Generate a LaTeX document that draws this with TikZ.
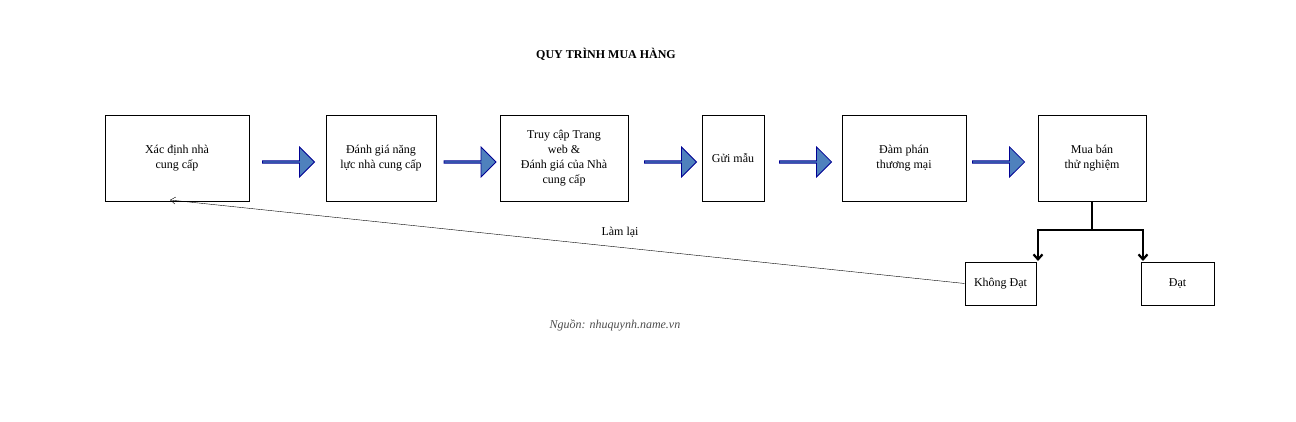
\documentclass[tikz,border=0pt]{standalone}
\usepackage{fontspec}
\setmainfont{Liberation Serif}
\usetikzlibrary{shapes.arrows,arrows.meta}
\begin{document}
\begin{tikzpicture}[x=1pt,y=-1pt,
  box/.style={draw,thick,align=center,font=\fontsize{12}{15}\selectfont,inner sep=0pt},
  barrow/.style={single arrow,draw=blue!30!black!60!blue,fill={rgb,255:red,79;green,129;blue,189},
    minimum height=52pt,minimum width=30pt,single arrow head extend=5pt,inner sep=0pt,line width=0.8pt}]
\useasboundingbox (0,0) rectangle (1296,422);
\node[box,minimum width=144pt,minimum height=86pt] (b1) at (177,158) {Xác định nhà\\cung cấp};
\node[box,minimum width=110pt,minimum height=86pt] (b2) at (381,158) {Đánh giá năng\\lực nhà cung cấp};
\node[box,minimum width=128pt,minimum height=86pt] (b3) at (564,158) {Truy cập Trang\\web \&\\Đánh giá của Nhà\\cung cấp};
\node[box,minimum width=62pt,minimum height=86pt] (b4) at (733,158) {Gửi mẫu};
\node[box,minimum width=124pt,minimum height=86pt] (b5) at (904,158) {Đàm phán\\thương mại};
\node[box,minimum width=108pt,minimum height=86pt] (b6) at (1092,158) {Mua bán\\thử nghiệm};
\node[box,minimum width=71pt,minimum height=43pt] (k) at (1000.5,283.5) {Không Đạt};
\node[box,minimum width=73pt,minimum height=43pt] (d) at (1177.5,283.5) {Đạt};
\foreach \xx in {288,469.5,670,805,998} \node[barrow] at (\xx,162) {};
\coordinate (j) at (1092,230);
\draw[line width=2.2pt] (b6.south) -- (j);
\draw[line width=2.2pt,-{Straight Barb[length=5pt,width=9pt]}] (j) -| (1038,261);
\draw[line width=2.2pt,-{Straight Barb[length=5pt,width=9pt]}] (j) -| (1143,261);
\coordinate (t) at (170,200);
\draw[-{Straight Barb[length=5pt,width=7pt]}] (k.west) -- (t);
\node[font=\fontsize{12}{15}\selectfont] (l) at (620,232) {Làm lại};
\node[font=\bfseries\fontsize{12}{15}\selectfont] (title) at (606,54) {QUY TRÌNH MUA HÀNG};
\node[font=\itshape\fontsize{12}{15}\selectfont,text=black!70] (src) at (615,325) {Nguồn: nhuquynh.name.vn};
\end{tikzpicture}
\end{document}
